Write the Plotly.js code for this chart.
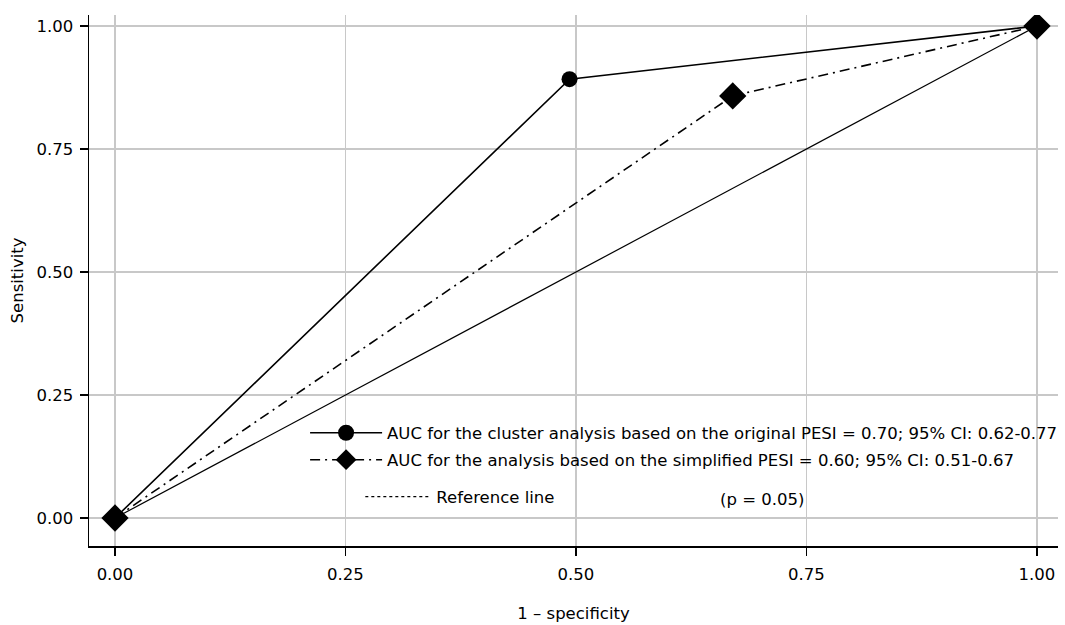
<!DOCTYPE html>
<html>
<head>
<meta charset="utf-8">
<script src="https://cdn.plot.ly/plotly-3.0.1.min.js"></script>
<style>body{margin:0;background:#fff}#chart{width:1065px;height:625px}</style>
</head>
<body>
<div id="chart"></div>
<script>
const xTicks = [0, 0.25, 0.5, 0.75, 1];
const xTickLabels = ['0.00', '0.25', '0.50', '0.75', '1.00'];
const yTicks = [0, 0.25, 0.5, 0.75, 1];
const yTickLabels = ['0.00', '0.25', '0.50', '0.75', '1.00'];

const origX = [0, 0.493, 1];
const origY = [0, 0.892, 1];
const simpX = [0, 0.670, 1];
const simpY = [0, 0.858, 1];
const refX = [0, 1];
const refY = [0, 1];

const nameOrig = 'AUC for the cluster analysis based on the original PESI = 0.70; 95% CI: 0.62-0.77';
const nameSimp = 'AUC for the analysis based on the simplified PESI = 0.60; 95% CI: 0.51-0.67';
const nameRef = 'Reference line';
const pText = '(p = 0.05)';

const font = 'DejaVu Sans, Verdana, sans-serif';
const fs = 16.5;

const traces = [
  {x: refX, y: refY, mode: 'lines', name: nameRef, showlegend: false,
   line: {color: '#000', width: 1.2}},
  {x: [null], y: [null], mode: 'lines', name: nameRef, legend: 'legend3',
   line: {color: '#000', width: 1.2, dash: 'dot'}, showlegend: true},
  {x: origX, y: origY, mode: 'lines+markers', name: nameOrig, legend: 'legend',
   line: {color: '#000', width: 1.6}, marker: {symbol: 'circle', size: 16, color: '#000'}},
  {x: simpX, y: simpY, mode: 'lines+markers', name: nameSimp, legend: 'legend2',
   line: {color: '#000', width: 1.6, dash: '10px,5px,2px,5px'}, marker: {symbol: 'diamond', size: 21, color: '#000'}}
];

function leg(x, y, w) {
  return {x: x, y: y, xanchor: 'left', yanchor: 'middle',
    bgcolor: 'rgba(0,0,0,0)', borderwidth: 0, itemwidth: w,
    font: {family: font, size: fs}};
}

const layout = {
  width: 1065, height: 625,
  margin: {l: 89, r: 7, t: 15, b: 79, autoexpand: false},
  paper_bgcolor: '#fff', plot_bgcolor: '#fff',
  font: {family: font, size: fs, color: '#000'},
  xaxis: {
    range: [-0.0282, 1.0228], tickvals: xTicks, ticktext: xTickLabels,
    showgrid: true, gridcolor: '#c8c8c8', gridwidth: 1.5, zeroline: false,
    showline: true, linecolor: '#000', linewidth: 1.5,
    ticks: 'outside', ticklen: 8, tickcolor: '#000', tickwidth: 1.5,
    ticklabelstandoff: 5,
    title: {text: '1 \u2013 specificity', font: {size: fs}, standoff: 24},
    tickfont: {size: fs}
  },
  yaxis: {
    range: [-0.0569, 1.0224], tickvals: yTicks, ticktext: yTickLabels,
    showgrid: true, gridcolor: '#c8c8c8', gridwidth: 1.5, zeroline: false,
    showline: true, linecolor: '#000', linewidth: 1.5,
    ticks: 'outside', ticklen: 8, tickcolor: '#000', tickwidth: 1.5,
    ticklabelstandoff: 3,
    title: {text: 'Sensitivity', font: {size: fs}, standoff: 8},
    tickfont: {size: fs}
  },
  legend: leg(0.223, 0.2128, 72),
  legend2: leg(0.223, 0.162, 72),
  legend3: leg(0.280, 0.0923, 66),
  annotations: [
    {text: pText, xref: 'paper', yref: 'paper', x: 0.695, y: 0.088,
     xanchor: 'center', yanchor: 'middle', showarrow: false, font: {family: font, size: fs}}
  ]
};

Plotly.newPlot('chart', traces, layout, {displayModeBar: false, staticPlot: true});
</script>
</body>
</html>
